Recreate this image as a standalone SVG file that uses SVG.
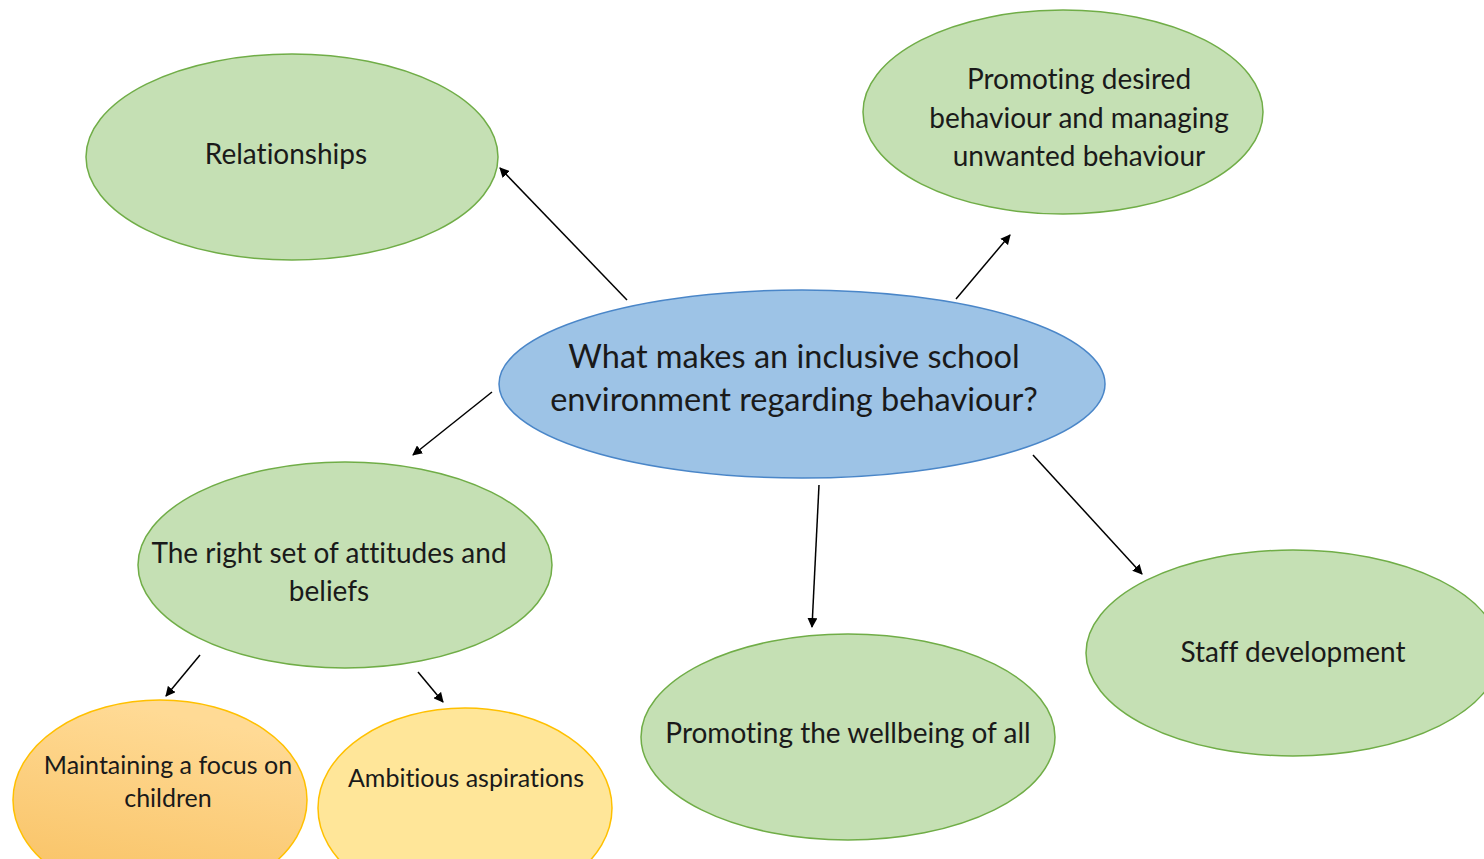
<svg xmlns="http://www.w3.org/2000/svg" width="1484" height="859" viewBox="0 0 1484 859">
<defs>
<style>
.g{fill:#C5E0B4;stroke:#70AD47;stroke-width:1.5}
.b{fill:#9DC3E6;stroke:#4A86C8;stroke-width:1.5}
.y{fill:#FFE699;stroke:#FFC000;stroke-width:1.5}
.o{fill:url(#og);stroke:#FFC000;stroke-width:1.5}
text{font-family:Lato,"Liberation Sans",sans-serif;fill:#1a1a1a;text-anchor:middle;font-variant-ligatures:none}
.t{font-size:28px}
.c{font-size:32.5px}
.s{font-size:25px}
.cn line{stroke:#000;stroke-width:1.5;marker-end:url(#ah)}
</style>
<linearGradient id="og" x1="0" y1="1" x2="0.3" y2="0">
<stop offset="0" stop-color="#F8C060"/>
<stop offset="1" stop-color="#FFDA95"/>
</linearGradient>
<marker id="ah" markerWidth="10" markerHeight="10" refX="9" refY="5" orient="auto" markerUnits="userSpaceOnUse">
<path d="M0,0 L10,5 L0,10 z" fill="#000"/>
</marker>
</defs>
<rect width="1484" height="859" fill="#fff"/>
<g id="relationships"><ellipse class="g" cx="292" cy="157" rx="206" ry="103"/><text class="t" x="286" y="164">Relationships</text></g>
<g id="promoting-desired"><ellipse class="g" cx="1063" cy="112" rx="200" ry="102"/><text class="t" x="1079" y="89">Promoting desired</text><text class="t" x="1079" y="128">behaviour and managing</text><text class="t" x="1079" y="166">unwanted behaviour</text></g>
<g id="center"><ellipse class="b" cx="802" cy="384" rx="303" ry="94"/><text class="c" x="794" y="368">What makes an inclusive school</text><text class="c" x="794" y="411">environment regarding behaviour?</text></g>
<g id="right-set"><ellipse class="g" cx="345" cy="565" rx="207" ry="103"/><text class="t" x="329" y="563">The right set of attitudes and</text><text class="t" x="329" y="601">beliefs</text></g>
<g id="wellbeing"><ellipse class="g" cx="848" cy="737" rx="207" ry="103"/><text class="t" x="848" y="743">Promoting the wellbeing of all</text></g>
<g id="staff"><ellipse class="g" cx="1293" cy="653" rx="207" ry="103"/><text class="t" x="1293" y="662">Staff development</text></g>
<g id="maintaining"><ellipse class="o" cx="160" cy="800" rx="147" ry="100"/><text class="s" x="168" y="774">Maintaining a focus on</text><text class="s" x="168" y="807">children</text></g>
<g id="ambitious"><ellipse class="y" cx="465" cy="808" rx="147" ry="100"/><text class="s" x="466" y="787">Ambitious aspirations</text></g>
<g class="cn" id="connectors">
<line x1="627" y1="300" x2="500" y2="168"/>
<line x1="956" y1="299" x2="1010" y2="235"/>
<line x1="492" y1="392" x2="413" y2="455"/>
<line x1="819" y1="485" x2="812" y2="627"/>
<line x1="1033" y1="455" x2="1142" y2="574"/>
<line x1="200" y1="655" x2="166" y2="696"/>
<line x1="418" y1="672" x2="443" y2="702"/>
</g>
</svg>
